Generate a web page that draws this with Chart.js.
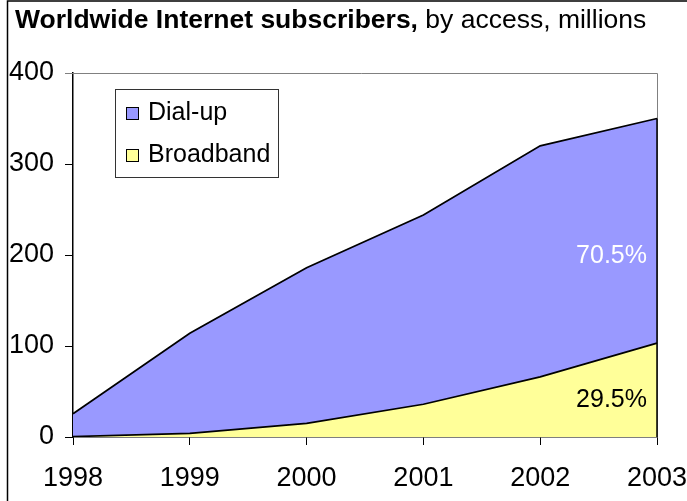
<!DOCTYPE html>
<html>
<head>
<meta charset="utf-8">
<title>Worldwide Internet subscribers</title>
<script src="https://cdn.jsdelivr.net/npm/chart.js@4/dist/chart.umd.min.js"></script>
<style>
  html, body { margin: 0; padding: 0; background: #fff; }
  canvas { display: block; }
</style>
</head>
<body>
<canvas id="subscribersChart" width="687" height="501"></canvas>
<script>
// subscribers in millions, by year
const years = ['1998', '1999', '2000', '2001', '2002', '2003'];
const broadband = [0.5, 4, 15, 36, 66, 103.25];
const dialup = [25, 110, 171, 208, 254, 246.75];
const yTicks = [0, 100, 200, 300, 400];

const FONT = "'Liberation Sans', Arial, sans-serif";

// title, outer frame and the grey plot border
const decorations = {
    id: 'decorations',
    beforeDatasetsDraw(chart) {
        const { ctx, chartArea } = chart;
        ctx.save();
        ctx.strokeStyle = '#808080';
        ctx.lineWidth = 1;
        ctx.beginPath();
        ctx.moveTo(chartArea.left - 8, chartArea.top + 0.5);
        ctx.lineTo(chartArea.right + 0.5, chartArea.top + 0.5);
        ctx.lineTo(chartArea.right + 0.5, chartArea.bottom);
        ctx.stroke();
        ctx.restore();
    },
    afterDraw(chart) {
        const { ctx } = chart;
        ctx.save();
        ctx.strokeStyle = '#000';
        ctx.lineWidth = 1.5;
        ctx.beginPath();
        ctx.moveTo(7.5, chart.height);
        ctx.lineTo(7.5, 1);
        ctx.lineTo(chart.width, 1);
        ctx.stroke();

        ctx.fillStyle = '#000';
        ctx.textBaseline = 'alphabetic';
        ctx.textAlign = 'left';
        ctx.font = 'bold 26.5px ' + FONT;
        const bold = 'Worldwide Internet subscribers,';
        ctx.fillText(bold, 15, 28);
        const w = ctx.measureText(bold).width;
        ctx.font = '26.5px ' + FONT;
        ctx.fillText(' by access, millions', 15 + w, 28);
        ctx.restore();
    }
};

// closing edge of the stacked areas at the last year, and share labels
const areaExtras = {
    id: 'areaExtras',
    afterDatasetsDraw(chart) {
        const { ctx } = chart;
        const x = chart.scales.x;
        const y = chart.scales.y;
        const last = years.length - 1;
        const total = broadband[last] + dialup[last];
        const px = x.getPixelForValue(last);
        ctx.save();
        ctx.strokeStyle = '#000';
        ctx.lineWidth = 1.5;
        ctx.beginPath();
        ctx.moveTo(px, y.getPixelForValue(total));
        ctx.lineTo(px, y.getPixelForValue(0));
        ctx.stroke();

        ctx.font = '25px ' + FONT;
        ctx.textAlign = 'right';
        ctx.textBaseline = 'middle';
        ctx.fillStyle = '#fff';
        ctx.fillText((dialup[last] / total * 100).toFixed(1) + '%', px - 10, y.getPixelForValue(199));
        ctx.fillStyle = '#000';
        ctx.fillText((broadband[last] / total * 100).toFixed(1) + '%', px - 10, y.getPixelForValue(41));
        ctx.restore();
    }
};

// boxed legend inside the plot, dial-up listed first
const boxLegend = {
    id: 'boxLegend',
    afterDraw(chart) {
        const { ctx } = chart;
        const bx = 115, by = 89, bw = 163, bh = 88;
        ctx.save();
        ctx.fillStyle = '#fff';
        ctx.fillRect(bx, by, bw, bh);
        ctx.strokeStyle = '#333';
        ctx.lineWidth = 1;
        ctx.strokeRect(bx + 0.5, by + 0.5, bw, bh);
        const items = chart.data.datasets.slice().reverse();
        ctx.font = '25px ' + FONT;
        ctx.textAlign = 'left';
        ctx.textBaseline = 'alphabetic';
        items.forEach((ds, i) => {
            const rowY = by + 31 + i * 42;
            ctx.fillStyle = ds.backgroundColor;
            ctx.fillRect(126, rowY - 13, 13, 13);
            ctx.strokeStyle = '#000';
            ctx.strokeRect(126.5, rowY - 12.5, 12, 12);
            ctx.fillStyle = '#000';
            ctx.fillText(ds.label, 148, rowY);
        });
        ctx.restore();
    }
};

const ctx = document.getElementById('subscribersChart').getContext('2d');
new Chart(ctx, {
    type: 'line',
    data: {
        labels: years,
        datasets: [{
            label: 'Broadband',
            data: broadband,
            backgroundColor: '#FFFF99',
            borderColor: '#000',
            borderWidth: 1.75,
            fill: 'origin'
        }, {
            label: 'Dial-up',
            data: dialup,
            backgroundColor: '#9999FF',
            borderColor: '#000',
            borderWidth: 1.75,
            fill: '-1'
        }]
    },
    options: {
        responsive: false,
        animation: false,
        devicePixelRatio: 1,
        layout: { padding: { top: 73, right: 30, left: 0, bottom: 0 } },
        elements: {
            point: { radius: 0 },
            line: { tension: 0 }
        },
        plugins: {
            legend: { display: false },
            tooltip: { enabled: false },
            title: { display: false }
        },
        scales: {
            x: {
                offset: false,
                grid: { drawOnChartArea: false, tickLength: 8, color: '#000' },
                border: { color: '#000', width: 1.5 },
                ticks: { color: '#000', padding: 17, font: { family: FONT, size: 27 }, maxRotation: 0 },
                afterFit(scale) {
                    scale.height = 64;
                    scale.paddingLeft = 0;
                    scale.paddingRight = 0;
                }
            },
            y: {
                stacked: true,
                min: 0,
                max: 400,
                afterBuildTicks(scale) { scale.ticks = yTicks.map(v => ({ value: v })); },
                grid: { drawOnChartArea: false, tickLength: 8, color: '#000' },
                border: { color: '#000', width: 1.5 },
                ticks: { color: '#000', padding: 11, font: { family: FONT, size: 27 } },
                afterFit(scale) {
                    scale.width = 73;
                    scale.paddingTop = 0;
                    scale.paddingBottom = 0;
                }
            }
        }
    },
    plugins: [decorations, areaExtras, boxLegend]
});
</script>
</body>
</html>
